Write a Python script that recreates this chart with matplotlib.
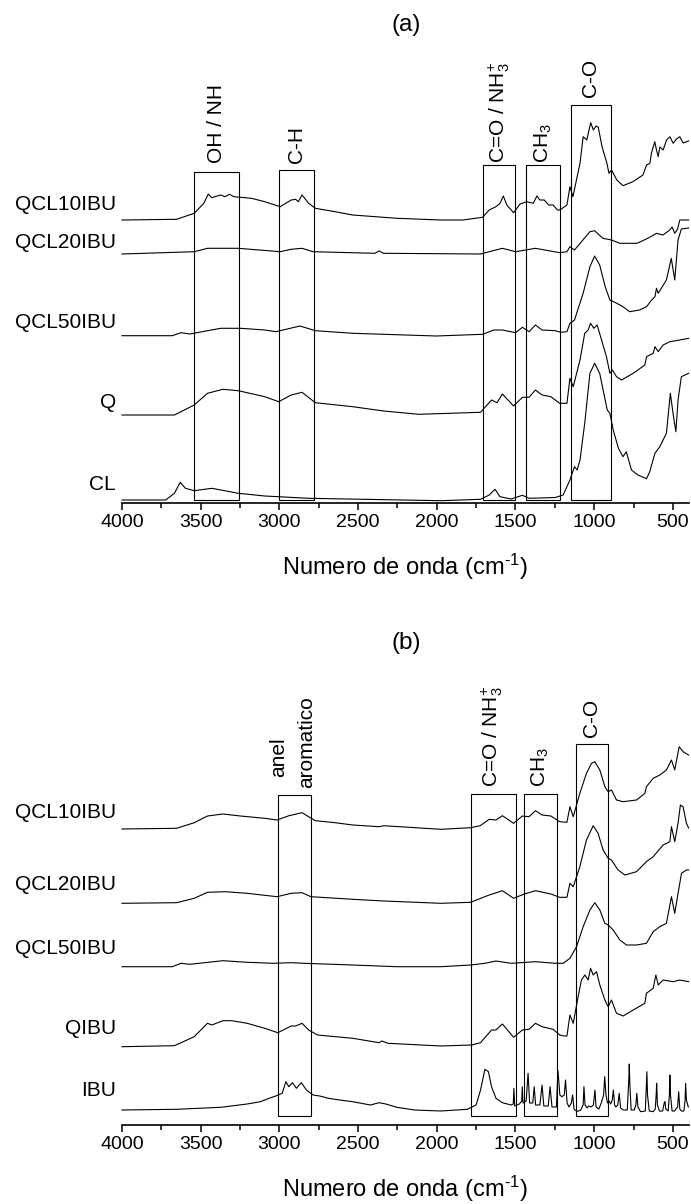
import matplotlib
matplotlib.use("Agg")
import matplotlib.pyplot as plt
from matplotlib.patches import Rectangle
from matplotlib.ticker import MultipleLocator

plt.rcParams['font.family'] = ['Liberation Sans', 'DejaVu Sans']
plt.rcParams['mathtext.fontset'] = 'custom'
plt.rcParams['mathtext.rm'] = 'Liberation Sans'
plt.rcParams['mathtext.it'] = 'Liberation Sans'

# ---------------- Panel (a) data: (wavenumber, offset intensity) ----------------
a_qcl10_w = [4000, 3653, 3541, 3480, 3452, 3430, 3373, 3345, 3317, 3289, 3177, 3093, 2995, 2925, 2897, 2880,
             2856, 2814, 2772, 2646, 2534, 2254, 1974, 1834, 1709, 1667, 1624, 1598, 1577, 1555, 1512, 1471,
             1429, 1387, 1364, 1345, 1317, 1289, 1261, 1233, 1218, 1173, 1154, 1135, 1090, 1070, 1047, 1022,
             1005, 988, 974, 950, 919, 906, 890, 856, 817, 754, 690, 667, 646, 636, 615, 604, 593, 583, 562,
             540, 519, 498, 477, 456, 435, 413, 400]
a_qcl10_v = [283, 283.7, 289.7, 299.7, 309, 305.3, 308, 306.3, 308.7, 306.3, 304.7, 301.3, 296.3, 303, 303.7, 301.3,
             308, 299.7, 294.7, 291.3, 288, 284.7, 283, 283, 285.7, 293, 296.3, 299.7, 307, 298, 290.3, 299,
             301.3, 299.7, 307, 303, 303, 298, 298, 293, 293, 298, 316.3, 306.3, 339.7, 366.3, 363, 380.3,
             373, 377, 375.7, 356.3, 339.7, 329.7, 333, 323, 317.3, 321.3, 328, 338, 339.7, 350, 361.3, 353, 346.3, 356, 353,
             363, 366.3, 359.7, 364, 366.3, 360, 361.3, 362]

a_qcl20_w = [4000, 3541, 3457, 3261, 2995, 2925, 2856, 2786, 2394, 2366, 2338, 1722, 1583, 1499, 1373, 1219,
             1173, 1154, 1125, 1027, 997, 945, 890, 837, 728, 659, 604, 563, 520, 505, 488, 470, 456, 400]
a_qcl20_v = [249, 251.3, 254.7, 254.7, 251.3, 253.7, 254.7, 251.3, 249.7, 252, 249.7, 249, 254.7, 251.3, 254.7, 250.3,
             251.3, 256.3, 253, 271.3, 272.3, 264.7, 263, 259.7, 259.7, 264.7, 269.7, 268, 273, 276, 269.7, 274, 283, 283]

a_qcl50_w = [4000, 3681, 3625, 3569, 3373, 3247, 3093, 3023, 2869, 2772, 2534, 2002, 1708, 1638, 1583, 1499,
             1456, 1414, 1373, 1331, 1247, 1213, 1173, 1154, 1125, 1070, 1027, 997, 965, 930, 900, 856, 817,
             775, 712, 667, 635, 614, 604, 593, 541, 510, 488, 467, 446, 400]
a_qcl50_v = [167.3, 167.3, 170.3, 169, 174.7, 174.7, 173, 171.3, 177, 172.3, 169.7, 167, 168.7, 173, 173, 170.3,
             175.7, 171.3, 178, 173, 172.3, 170.7, 171.3, 179.7, 183, 209.7, 236.3, 247, 238, 216.3, 203, 199.7, 196.3,
             191.3, 193, 196.3, 203, 206.3, 214.7, 209.7, 223, 244.7, 223, 263, 274, 275]

a_q_w = [4000, 3667, 3541, 3457, 3359, 3261, 3093, 3004, 2925, 2856, 2772, 2534, 2338, 2114, 1722, 1652, 1617,
         1583, 1512, 1456, 1414, 1373, 1331, 1275, 1219, 1173, 1154, 1133, 1090, 1060, 1038, 1023, 1002, 981,
         953, 922, 900, 884, 858, 826, 752, 678, 667, 625, 614, 593, 562, 519, 456, 400]
a_q_v = [88, 88, 98, 109.7, 113.7, 112.3, 106.3, 101.3, 108, 110.7, 100.3, 96.3, 92, 88.7, 90.7, 103, 100.3,
         109, 97, 105.7, 105.7, 113, 108, 106.3, 99.7, 99.7, 124.7, 116.3, 143, 169.7, 173, 179.7, 174.7, 178,
         163, 146.3, 129.7, 133, 126.3, 123, 129.7, 138, 146.3, 149.7, 156.3, 151.3, 158, 161.3, 163, 164.7]

a_cl_w = [4000, 3723, 3667, 3630, 3597, 3541, 3429, 3261, 3093, 2814, 1974, 1722, 1667, 1630, 1598, 1528, 1456,
          1414, 1247, 1197, 1154, 1125, 1108, 1090, 1060, 1027, 997, 965, 930, 917, 900, 879, 846, 817, 796,
          763, 722, 667, 647, 614, 583, 541, 516, 499, 481, 467, 446, 400]
a_cl_v = [3, 3, 9.7, 20.7, 14.7, 12.3, 14.7, 9.7, 7, 4.7, 2.3, 3.7, 8, 13.7, 6.3, 4, 7.7,
          4.7, 5.5, 8, 23, 36.3, 33, 43, 79.7, 129.7, 139.7, 129.7, 103, 93, 89.7, 73, 54.7, 46.3, 51.3,
          33, 28, 24.3, 31.3, 49.7, 56.3, 69.7, 109.7, 89.7, 71.3, 103, 126.3, 129.7]

a_names = ['QCL10IBU', 'QCL20IBU', 'QCL50IBU', 'Q', 'CL']
a_label_y = [299, 260, 181, 100, 19]

# boxes: (w_left, w_right, top)
a_boxes = [(3540, 3255, 331), (3000, 2780, 333), (1705, 1500, 338), (1430, 1220, 338), (1150, 895, 398)]
a_box_bottom = 3
a_texts = ['OH / NH', 'C-H', r'C=O / NH$_{\mathregular{3}}^{\mathregular{+}}$', r'CH$_{\mathregular{3}}$', 'C-O']
a_text_pos = [(3397, 340), (2890, 340), (1603, 340), (1325, 340), (1022, 406)]

# ---------------- Panel (b) data ----------------
b_qcl10_w = [4000, 3653, 3541, 3457, 3359, 3247, 3093, 3015, 2939, 2856, 2814, 2772, 2646, 2534, 2366, 2338,
             1974, 1785, 1724, 1667, 1624, 1583, 1512, 1456, 1414, 1373, 1331, 1275, 1219, 1173, 1154, 1133,
             1091, 1049, 1017, 996, 964, 932, 911, 890, 858, 816, 731, 678, 668, 625, 583, 541, 509, 488,
             460, 435, 400]
b_qcl10_v = [296, 296.7, 302.3, 309, 311, 309, 306.7, 305, 309.3, 312.3, 308.3, 304.3, 302.3, 300, 298.3, 299.3,
             295.7, 297.3, 299.3, 305.7, 305, 309.3, 301.7, 309, 308.3, 314.3, 310, 309, 303.3, 302.7, 318.3, 308.3,
             331.7, 351.7, 361.7, 363.3, 355, 338.3, 333.3, 335, 325, 323.3, 325, 331.7, 338.3, 346.7, 350, 355, 365, 355,
             378.3, 373.3, 370]

b_qcl20_w = [4000, 3653, 3541, 3457, 3345, 3205, 3015, 2925, 2856, 2800, 2534, 2338, 1974, 1785, 1667, 1583,
             1512, 1443, 1373, 1275, 1219, 1173, 1154, 1133, 1091, 1049, 1006, 975, 943, 911, 890, 848, 805,
             731, 668, 625, 562, 519, 509, 488, 467, 452, 435, 414, 400]
b_qcl20_v = [221.7, 222.3, 226.7, 232.7, 233.3, 231.7, 228.3, 231.7, 232.3, 228.3, 225.7, 224, 221.7, 222.7, 230, 234.3,
             226.7, 231, 234.3, 231, 227.7, 227.7, 241.7, 238.3, 258.3, 285, 299.3, 291.7, 275, 266.7, 265, 255, 250,
             253.3, 263.3, 268.3, 280, 283.3, 298.3, 283.3, 301.7, 320, 318.3, 301.7, 297]

b_qcl50_w = [4000, 3681, 3625, 3569, 3359, 3205, 3037, 2925, 2842, 2534, 2254, 1974, 1785, 1694, 1624, 1527,
             1373, 1247, 1197, 1154, 1112, 1070, 1027, 996, 964, 932, 911, 879, 837, 795, 731, 668, 625, 583,
             541, 509, 488, 467, 445, 414, 400]
b_qcl50_v = [158.3, 158.3, 161.7, 160.7, 164.3, 162.7, 161.7, 162.3, 161.7, 160, 158.3, 158.3, 160, 161.7, 164, 161.7,
             163.3, 161.7, 161.7, 166.7, 178.3, 198.3, 215, 222.3, 215, 201.7, 200, 195, 185, 180, 180, 181.7, 193.3, 198.3,
             201.7, 228.3, 211.7, 231.7, 251.7, 255, 255]

b_qibu_w = [4000, 3667, 3541, 3457, 3429, 3359, 3303, 3205, 3093, 3010, 2925, 2897, 2856, 2814, 2758, 2534,
            2366, 2349, 2310, 1974, 1778, 1722, 1652, 1624, 1583, 1512, 1456, 1414, 1373, 1331, 1261, 1219,
            1191, 1173, 1154, 1133, 1102, 1081, 1059, 1038, 1023, 1006, 985, 964, 932, 911, 890, 858, 816,
            752, 678, 668, 625, 608, 593, 562, 498, 456, 400]
b_qibu_v = [78.3, 79.3, 88.3, 101.7, 100, 104.3, 104.3, 101.7, 96.7, 92.3, 99, 99, 101.7, 95, 90, 86.7,
            82.3, 84, 81.7, 79, 80, 82.3, 95, 95, 101, 87.7, 95, 95.7, 101.7, 98.3, 95.7, 90,
            89, 89, 110, 101.7, 128.3, 145, 150, 145, 156.7, 150, 153.3, 140, 125, 118.3, 125, 111.7, 109,
            115, 121.7, 131.7, 136.7, 150, 140, 145, 143.3, 145, 143.3]

b_ibu_w = [4000, 3653, 3373, 3205, 3121, 3065, 3023, 2982, 2959, 2940, 2917, 2892, 2861, 2828, 2786, 2744,
           2688, 2618, 2534, 2422, 2366, 2324, 2254, 2142, 1974, 1806, 1750, 1722, 1694, 1672, 1652, 1624,
           1583, 1527, 1514, 1510, 1505, 1475, 1460, 1457, 1452, 1432, 1420, 1410, 1390, 1381, 1372, 1345,
           1331, 1320, 1292, 1280, 1268, 1240, 1230, 1218, 1205, 1190, 1182, 1172, 1160, 1145, 1137, 1128,
           1110, 1085, 1070, 1065, 1058, 1045, 1035, 1020, 1005, 995, 988, 970, 955, 940, 933, 925, 915,
           905, 895, 885, 878, 870, 862, 850, 841, 832, 815, 790, 780, 777, 773, 765, 745, 735, 729, 722,
           705, 675, 668, 665, 661, 650, 625, 612, 606, 603, 598, 585, 565, 555, 550, 545, 530, 522, 519,
           515, 505, 490, 470, 463, 456, 445, 430, 422, 419, 414, 402]
b_ibu_v = [15, 15.7, 17.7, 21, 23.3, 26.7, 29, 31.7, 43.3, 38.3, 42.3, 36.7, 42.3, 35, 30, 29,
           26.7, 25, 23.3, 20, 22.3, 21, 17.7, 15, 14, 15.7, 20, 35, 55.7, 53.3, 38.3, 26.7,
           22.3, 20, 21, 36.7, 19, 21, 24, 38.3, 22, 24, 51.7, 22, 22, 38.3, 20, 20,
           40, 19, 19, 38.3, 18, 18, 54.3, 30, 28.3, 30, 45, 22, 18, 22, 30, 16,
           13.5, 15, 20, 38.3, 20, 17, 19, 18, 20, 35, 18, 16, 22, 30, 48.3, 30, 22,
           24, 21, 25, 35, 20, 18, 20, 31.7, 17, 15, 15, 45, 61, 40, 15, 15, 20, 31.7, 18,
           13.3, 14, 40, 53.3, 30, 14, 13.3, 16, 30, 41.7, 20, 14, 14, 22, 23.3, 16, 14, 30, 50,
           30, 14, 14, 18, 33.3, 16, 14, 14, 25, 41.7, 25, 18]

b_names = ['QCL10IBU', 'QCL20IBU', 'QCL50IBU', 'QIBU', 'IBU']
b_label_y = [313, 240, 176, 96, 35]

b_boxes = [(3012, 2802, 330), (1784, 1499, 331), (1448, 1238, 331), (1117, 910, 381)]
b_box_bottom = 9
b_texts = ['anel', 'aromatico', r'C=O / NH$_{\mathregular{3}}^{\mathregular{+}}$', r'CH$_{\mathregular{3}}$', 'C-O']
b_text_pos = [(3003, 348), (2826, 337), (1650, 338), (1340, 338), (1020, 388)]

xticks = [4000, 3500, 3000, 2500, 2000, 1500, 1000, 500]

# ---------------- Figure ----------------
W, H = 691, 1204
fig = plt.figure(figsize=(W / 100, H / 100), dpi=100)
axw = 566.6 / W
axh = 403 / H
ax_a = fig.add_axes([122 / W, (H - 503) / H, axw, axh])
ax_b = fig.add_axes([122 / W, (H - 1125) / H, axw, axh])


def style(ax):
    ax.set_xlim(4000, 400)
    ax.set_ylim(0, 403)
    for s in ['left', 'right', 'top']:
        ax.spines[s].set_visible(False)
    ax.spines['bottom'].set_linewidth(1.2)
    ax.set_yticks([])
    ax.set_xticks(xticks)
    ax.xaxis.set_minor_locator(MultipleLocator(250))
    ax.tick_params(axis='x', which='major', direction='out', length=5, width=1.1, labelsize=14, pad=3)
    ax.tick_params(axis='x', which='minor', direction='out', length=3.5, width=1.1)
    ax.set_xlabel(r'Numero de onda (cm$^{\text{-1}}$)', fontsize=17)
    ax.xaxis.set_label_coords(0.5, -64 / 403)
    ax.xaxis.label.set_va('center')
    ax.patch.set_alpha(0)


def draw(ax, series, names, label_y, boxes, bottom, texts, text_pos):
    for w, v in series:
        ax.plot(w, v, color='black', lw=0.8, clip_on=False)
    for n, y in zip(names, label_y):
        ax.text(-6 / 566.6, y, n, transform=ax.get_yaxis_transform(), ha='right', va='center', fontsize=15)
    for l, r, t in boxes:
        ax.add_patch(Rectangle((r, bottom), l - r, t - bottom, fill=False, ec='black', lw=0.8, clip_on=False))
    for s, (x, y) in zip(texts, text_pos):
        ax.text(x, y, s, rotation=90, ha='center', va='bottom', fontsize=15, clip_on=False)


style(ax_a)
style(ax_b)
draw(ax_a, [(a_qcl10_w, a_qcl10_v), (a_qcl20_w, a_qcl20_v), (a_qcl50_w, a_qcl50_v), (a_q_w, a_q_v), (a_cl_w, a_cl_v)],
     a_names, a_label_y, a_boxes, a_box_bottom, a_texts, a_text_pos)
draw(ax_b, [(b_qcl10_w, b_qcl10_v), (b_qcl20_w, b_qcl20_v), (b_qcl50_w, b_qcl50_v), (b_qibu_w, b_qibu_v), (b_ibu_w, b_ibu_v)],
     b_names, b_label_y, b_boxes, b_box_bottom, b_texts, b_text_pos)

fig.text(406 / W, 1 - 25 / H, '(a)', ha='center', va='center', fontsize=17.5)
fig.text(406 / W, 1 - 643 / H, '(b)', ha='center', va='center', fontsize=17.5)

fig.savefig('out.png', dpi=100)
